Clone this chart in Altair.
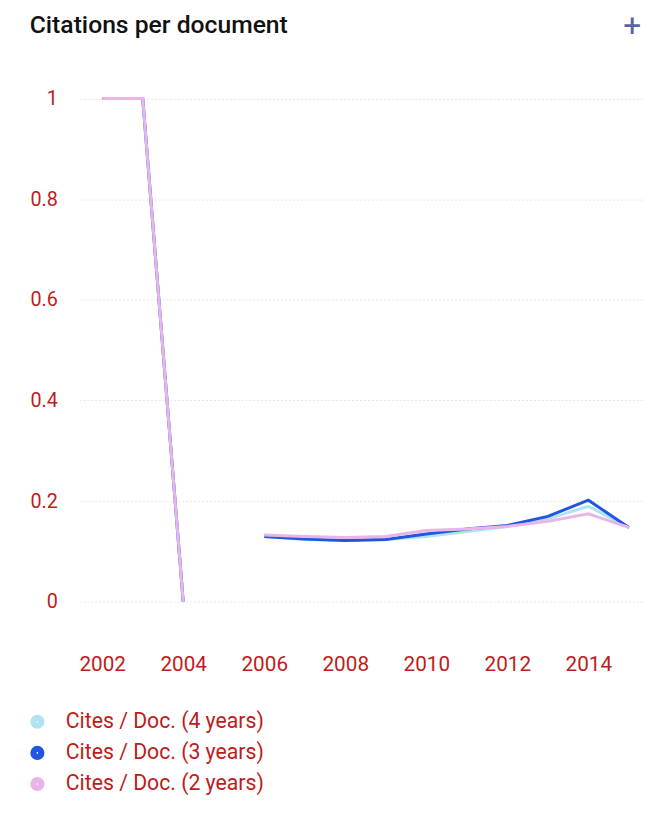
import altair as alt
import pandas as pd

years = list(range(2002, 2016))
cites_4y = [1.0, 1.0, 0.0, None, 0.130, 0.124, 0.122, 0.124, 0.130, 0.140, 0.150, 0.165, 0.190, 0.148]
cites_3y = [1.0, 1.0, 0.0, None, 0.130, 0.125, 0.122, 0.124, 0.135, 0.145, 0.152, 0.170, 0.202, 0.148]
cites_2y = [1.0, 1.0, 0.0, None, 0.133, 0.130, 0.128, 0.130, 0.142, 0.145, 0.150, 0.160, 0.175, 0.148]
series_names = ["Cites / Doc. (4 years)", "Cites / Doc. (3 years)", "Cites / Doc. (2 years)"]
series_colors = ["#aee3f2", "#1f56e0", "#e9b5e8"]
x_ticks = [2002, 2004, 2006, 2008, 2010, 2012, 2014]
y_ticks = [0, 0.2, 0.4, 0.6, 0.8, 1]

rows = []
for si, (name, vals) in enumerate(zip(series_names, [cites_4y, cites_3y, cites_2y])):
    for yr, v in zip(years, vals):
        rows.append({"year": yr, "value": v, "series": name, "series_order": si})
df = pd.DataFrame(rows)

label_color = "#c01b1b"
font = "Roboto"

lines = alt.Chart(df).mark_line(strokeWidth=3, interpolate="linear").encode(
    x=alt.X("year:Q",
            scale=alt.Scale(domain=[2001.43, 2015.35], nice=False, zero=False),
            axis=alt.Axis(values=x_ticks, format="d", title=None, grid=False,
                          domain=False, ticks=False, labelPadding=22,
                          labelFontSize=21, labelColor=label_color, labelFont=font)),
    y=alt.Y("value:Q",
            scale=alt.Scale(domain=[-0.06, 1.054], nice=False, zero=False),
            axis=alt.Axis(values=y_ticks, format="~g", title=None, grid=True,
                          gridColor="#e6e6e6", gridDash=[2, 2], gridWidth=1,
                          domain=False, ticks=False, labelPadding=22,
                          labelFontSize=20, labelColor=label_color, labelFont=font)),
    color=alt.Color("series:N",
                    scale=alt.Scale(domain=series_names, range=series_colors),
                    sort=series_names,
                    legend=alt.Legend(title=None, orient="none", legendX=-53, legendY=648,
                                      symbolType="circle", symbolSize=40, symbolStrokeWidth=8,
                                      labelFontSize=21.5, labelColor=label_color, labelFont=font,
                                      labelLimit=400, rowPadding=-7.5, labelOffset=18)),
    order=alt.Order("series_order:Q"),
)

title = alt.Chart(pd.DataFrame({"t": ["Citations per document"]})).mark_text(
    align="left", baseline="middle", fontSize=25, fontWeight=500, font=font, color="#111111"
).encode(x=alt.value(-50), y=alt.value(-47), text="t:N")

plus = alt.Chart(pd.DataFrame({"t": ["+"]})).mark_text(
    align="center", baseline="middle", fontSize=32, fontWeight="normal", font=font, color="#5a62a8"
).encode(x=alt.value(560), y=alt.value(-46), text="t:N")

chart = alt.layer(lines, title, plus).properties(
    width=571, height=568,
    padding={"left": 72, "top": 59, "right": 2, "bottom": 170},
    autosize=alt.AutoSizeParams(type="none"),
    background="white",
).configure_view(stroke=None)

chart.save("out.html", embed_options={"renderer": "svg", "actions": False})
